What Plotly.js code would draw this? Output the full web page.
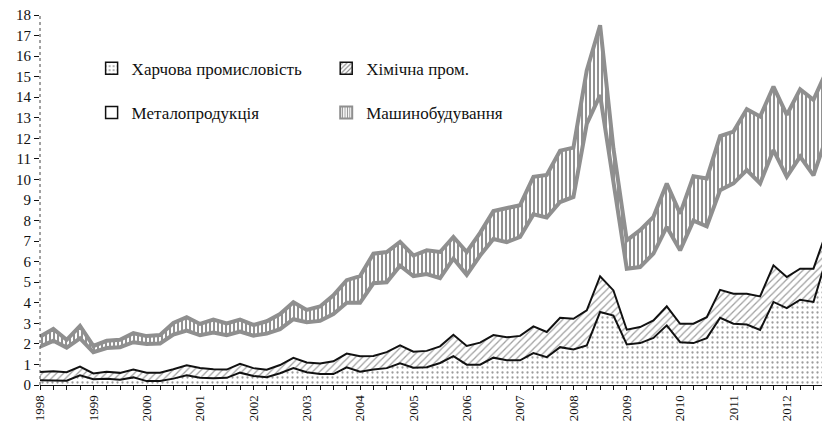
<!DOCTYPE html>
<html><head><meta charset="utf-8">
<script src="https://cdn.plot.ly/plotly-3.0.1.min.js"></script>
<style>html,body{margin:0;padding:0;background:#fff}</style>
</head><body><div id="chart" style="width:822px;height:422px"></div>
<script>
// Quarterly data, 1998 Q1 – 2012 Q4
const startYear = 1998;
const food = [0.23,0.22,0.21,0.47, 0.28,0.31,0.26,0.37, 0.19,0.19,0.31,0.47, 0.35,0.33,0.35,0.60,
  0.44,0.38,0.57,0.82, 0.62,0.53,0.53,0.86, 0.65,0.75,0.82,1.05, 0.84,0.86,1.07,1.40,
  0.99,0.99,1.33,1.20, 1.20,1.55,1.35,1.84, 1.73,1.92,3.55,3.38, 1.97,2.04,2.29,2.90,
  2.08,2.04,2.28,3.27, 2.98,2.94,2.68,4.04, 3.74,4.15,4.04,6.20];
const chem = [0.40,0.45,0.41,0.43, 0.28,0.33,0.33,0.38, 0.41,0.41,0.46,0.49, 0.48,0.44,0.40,0.43,
  0.38,0.36,0.40,0.50, 0.48,0.52,0.62,0.67, 0.75,0.66,0.78,0.88, 0.78,0.80,0.81,1.04,
  0.91,1.07,1.10,1.12, 1.19,1.30,1.23,1.43, 1.49,1.71,1.74,1.22, 0.72,0.78,0.85,0.93,
  0.90,0.94,1.02,1.36, 1.46,1.50,1.63,1.78, 1.51,1.51,1.62,1.30];
const metal = [1.24,1.48,1.20,1.37, 1.04,1.16,1.25,1.33, 1.40,1.42,1.68,1.69, 1.59,1.78,1.67,1.57,
  1.58,1.76,1.75,1.88, 1.95,2.07,2.30,2.47, 2.60,3.54,3.40,3.87, 3.68,3.74,3.32,3.71,
  3.45,4.24,4.67,4.63, 4.81,5.45,5.57,5.63, 5.93,9.07,8.81,5.40, 2.97,2.92,3.25,3.86,
  3.57,5.02,4.42,4.85, 5.37,6.02,5.50,5.61, 4.88,5.45,4.54,4.60];
const machine = [0.48,0.58,0.38,0.60, 0.30,0.35,0.36,0.44, 0.38,0.41,0.57,0.65, 0.55,0.63,0.58,0.58,
  0.52,0.60,0.73,0.83, 0.60,0.70,0.91,1.10, 1.30,1.44,1.47,1.16, 1.00,1.15,1.27,1.05,
  1.12,1.10,1.36,1.64, 1.55,1.83,2.07,2.50, 2.40,2.60,3.40,1.50, 1.38,1.79,1.79,2.11,
  1.79,2.16,2.33,2.63, 2.52,2.96,3.25,3.09, 3.01,3.28,3.67,3.20];
const seriesNames = ['Харчова промисловість','Хімічна пром.','Металопродукція','Машинобудування'];
const yearTicks = [1998,1999,2000,2001,2002,2003,2004,2005,2006,2007,2008,2009,2010,2011,2012];
const yTicks = [0,1,2,3,4,5,6,7,8,9,10,11,12,13,14,15,16,17,18];

const x = food.map((_, i) => startYear + i * 0.25);
const serif = "'Liberation Serif','Times New Roman',serif";
const GRAY = '#8f8f8f';

const traces = [
  {x, y: food, name: seriesNames[0], type: 'scatter', mode: 'lines', stackgroup: 'one', showlegend: false,
   line: {color: '#111', width: 2}, fillcolor: '#ffffff',
   fillpattern: {shape: '.', fgcolor: '#9c9c9c', bgcolor: '#ffffff', size: 5, solidity: 0.16}},
  {x, y: chem, name: seriesNames[1], type: 'scatter', mode: 'lines', stackgroup: 'one', showlegend: false,
   line: {color: '#111', width: 2}, fillcolor: '#ffffff',
   fillpattern: {shape: '/', fgcolor: '#a0a0a0', bgcolor: '#ffffff', size: 5, solidity: 0.25}},
  {x, y: metal, name: seriesNames[2], type: 'scatter', mode: 'lines', stackgroup: 'one', showlegend: false,
   line: {color: GRAY, width: 4}, fillcolor: 'rgba(255,255,255,0)'},
  {x, y: machine, name: seriesNames[3], type: 'scatter', mode: 'lines', stackgroup: 'one', showlegend: false,
   line: {color: GRAY, width: 4}, fillcolor: '#ffffff',
   fillpattern: {shape: '|', fgcolor: '#222', bgcolor: '#ffffff', size: 4, solidity: 0.25}},
  // legend swatches
  {x: [null], y: [null], type: 'bar', name: seriesNames[0], legend: 'legend',
   marker: {color: '#fff', line: {color: '#111', width: 1.5}, pattern: {shape: '.', fgcolor: '#999', bgcolor: '#fff', size: 5, solidity: 0.2}}},
  {x: [null], y: [null], type: 'bar', name: seriesNames[1], legend: 'legend2',
   marker: {color: '#fff', line: {color: '#111', width: 1.5}, pattern: {shape: '/', fgcolor: '#888', bgcolor: '#fff', size: 4, solidity: 0.35}}},
  {x: [null], y: [null], type: 'bar', name: seriesNames[2], legend: 'legend3',
   marker: {color: '#fff', line: {color: '#111', width: 1.5}}},
  {x: [null], y: [null], type: 'bar', name: seriesNames[3], legend: 'legend4',
   marker: {color: '#fff', line: {color: GRAY, width: 2}, pattern: {shape: '|', fgcolor: GRAY, bgcolor: '#fff', size: 3, solidity: 0.4}}}
];

const legBase = {xanchor: 'left', yanchor: 'middle', bgcolor: 'rgba(0,0,0,0)', borderwidth: 0,
  font: {family: serif, size: 17, color: '#111'}, traceorder: 'normal'};

const layout = {
  width: 822, height: 422,
  margin: {l: 40, r: 0, t: 15, b: 37, pad: 0},
  paper_bgcolor: '#fff', plot_bgcolor: '#fff',
  font: {family: serif, color: '#111'},
  showlegend: true,
  legend: Object.assign({}, legBase, {x: 0.066, y: 0.855}),
  legend2: Object.assign({}, legBase, {x: 0.366, y: 0.855}),
  legend3: Object.assign({}, legBase, {x: 0.066, y: 0.735}),
  legend4: Object.assign({}, legBase, {x: 0.366, y: 0.735}),
  xaxis: {
    type: 'linear', range: [1998, 2012.66], showgrid: false, zeroline: false,
    showline: true, linecolor: '#111', linewidth: 1,
    tickmode: 'array', tickvals: yearTicks, ticktext: yearTicks.map(String),
    ticks: 'outside', ticklen: 4, tickcolor: '#111', tickwidth: 1, tickangle: -90,
    tickfont: {family: serif, size: 13, color: '#111'},
    minor: {dtick: 0.25, tick0: 1998, ticks: 'outside', ticklen: 4, tickcolor: '#111', tickwidth: 1, showgrid: false}
  },
  yaxis: {
    type: 'linear', range: [0, 18], showgrid: false, zeroline: false,
    showline: false,
    tickmode: 'array', tickvals: yTicks, ticktext: yTicks.map(String),
    ticks: 'outside', ticklen: 5, tickcolor: '#111', tickwidth: 1,
    tickfont: {family: serif, size: 15, color: '#111'}
  },
  shapes: [
    {type: 'line', xref: 'paper', yref: 'paper', x0: 0, x1: 0, y0: 0, y1: 1,
     line: {color: '#444', width: 1, dash: 'dot'}}
  ]
};

Plotly.newPlot('chart', traces, layout, {displayModeBar: false, staticPlot: true});
</script></body></html>
